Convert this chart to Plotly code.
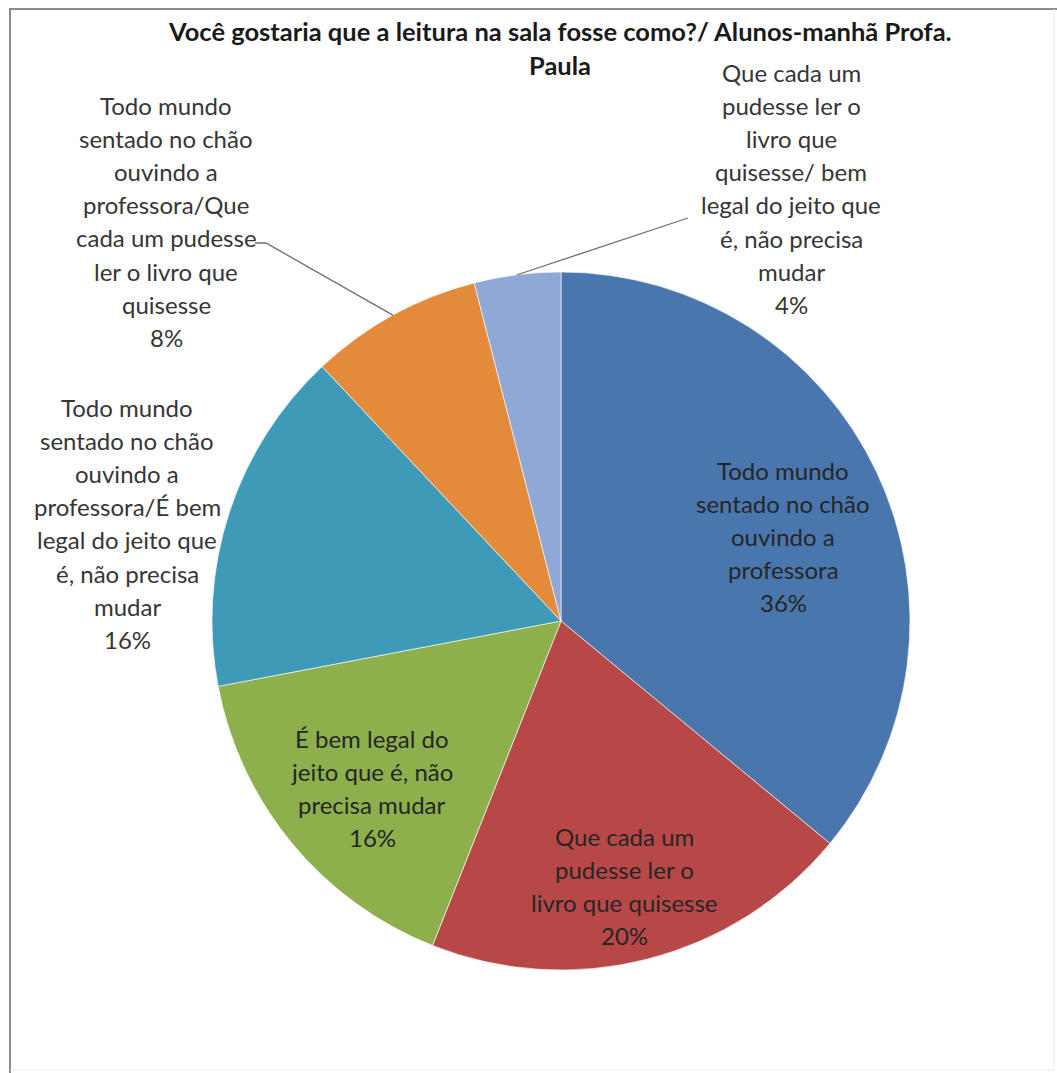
import math
import plotly.graph_objects as go

# --- data -------------------------------------------------------------
categories = [
    "Todo mundo sentado no chão ouvindo a professora",
    "Que cada um pudesse ler o livro que quisesse",
    "É bem legal do jeito que é, não precisa mudar",
    "Todo mundo sentado no chão ouvindo a professora/É bem legal do jeito que é, não precisa mudar",
    "Todo mundo sentado no chão ouvindo a professora/Que cada um pudesse ler o livro que quisesse",
    "Que cada um pudesse ler o livro que quisesse/ bem legal do jeito que é, não precisa mudar",
]
percent = [36, 20, 16, 16, 8, 4]

# wrapped label lines (without the percentage line)
label_lines = [
    ["Todo mundo", "sentado no chão", "ouvindo a", "professora"],
    ["Que cada um", "pudesse ler o", "livro que quisesse"],
    ["É bem legal do", "jeito que é, não", "precisa mudar"],
    ["Todo mundo", "sentado no chão", "ouvindo a", "professora/É bem",
     "legal do jeito que", "é, não precisa", "mudar"],
    ["Todo mundo", "sentado no chão", "ouvindo a", "professora/Que",
     "cada um pudesse", "ler o livro que", "quisesse"],
    ["Que cada um", "pudesse ler o", "livro que", "quisesse/ bem",
     "legal do jeito que", "é, não precisa", "mudar"],
]

title_lines = ["Você gostaria que a leitura na sala fosse como?/ Alunos-manhã Profa.",
               "Paula"]

colors = ["#4A76AE", "#B84848", "#8DB04C", "#3F9AB8", "#E48A3B", "#8FA8D5"]

# --- layout geometry (pixels) -----------------------------------------
W, H = 1057, 1073
CX, CY, R = 561, 621, 349
LINE = 33.2
FONT = "Lato, 'Open Sans', sans-serif"

# label block centres: (x, y of first line)
label_pos = [(783, 470), (624, 836), (372, 738), (127, 407), (166, 105), (791, 72)]
# leader line bends for outside labels
leaders = {4: [(255, 243), (266, 243)], 5: [(688, 218)]}


def px(x):
    return x / W


def py(y):
    return 1 - y / H


fig = go.Figure()
fig.add_trace(go.Pie(
    labels=categories,
    values=percent,
    sort=False,
    direction="clockwise",
    rotation=0,
    textinfo="none",
    hoverinfo="label+percent",
    marker=dict(colors=colors, line=dict(color="rgba(255,255,255,0.6)", width=1)),
    domain=dict(x=[px(CX - R), px(CX + R)], y=[py(CY + R), py(CY - R)]),
    showlegend=False,
))

annotations = []
shapes = []

# title
for i, t in enumerate(title_lines):
    annotations.append(dict(
        x=px(560), y=py(31 + i * 34), xref="paper", yref="paper",
        text=f"<b>{t}</b>", showarrow=False, xanchor="center", yanchor="middle",
        font=dict(family=FONT, size=25.5, color="#1a1a1a"),
    ))

# data labels: category lines + percentage line
total = sum(percent)
for i, (lines, v) in enumerate(zip(label_lines, percent)):
    x0, y0 = label_pos[i]
    all_lines = lines + [f"{round(100 * v / total)}%"]
    for j, t in enumerate(all_lines):
        annotations.append(dict(
            x=px(x0), y=py(y0 + j * LINE), xref="paper", yref="paper",
            text=t, showarrow=False, xanchor="center", yanchor="middle",
            font=dict(family=FONT, size=24, color="#262626" if i < 3 else "#363636"),
        ))

# leader lines from slice edge (mid-angle) to outside labels
cum = 0
for i, v in enumerate(percent):
    mid = (cum + v / 2) / total * 2 * math.pi
    cum += v
    if i not in leaders:
        continue
    ax = CX + R * math.sin(mid)
    ay = CY - R * math.cos(mid)
    pts = [(ax, ay)] + list(reversed(leaders[i]))
    path = "M " + " L ".join(f"{px(x)},{py(y)}" for x, y in pts)
    shapes.append(dict(type="path", xref="paper", yref="paper", path=path,
                       line=dict(color="#6e6e6e", width=1.3)))

# chart frame
shapes += [
    dict(type="line", xref="paper", yref="paper", x0=px(9), x1=1, y0=py(9), y1=py(9),
         line=dict(color="#8a8a8a", width=2)),
    dict(type="line", xref="paper", yref="paper", x0=px(10), x1=px(10), y0=py(9), y1=0,
         line=dict(color="#8a8a8a", width=2)),
    dict(type="line", xref="paper", yref="paper", x0=px(1054), x1=px(1054), y0=py(9), y1=py(1070),
         line=dict(color="#ececec", width=1)),
    dict(type="line", xref="paper", yref="paper", x0=px(10), x1=px(1054), y0=py(1070), y1=py(1070),
         line=dict(color="#ececec", width=1)),
]

fig.update_layout(
    width=W, height=H,
    margin=dict(l=0, r=0, t=0, b=0),
    paper_bgcolor="white", plot_bgcolor="white",
    annotations=annotations, shapes=shapes,
)

fig.write_html("out.html")
